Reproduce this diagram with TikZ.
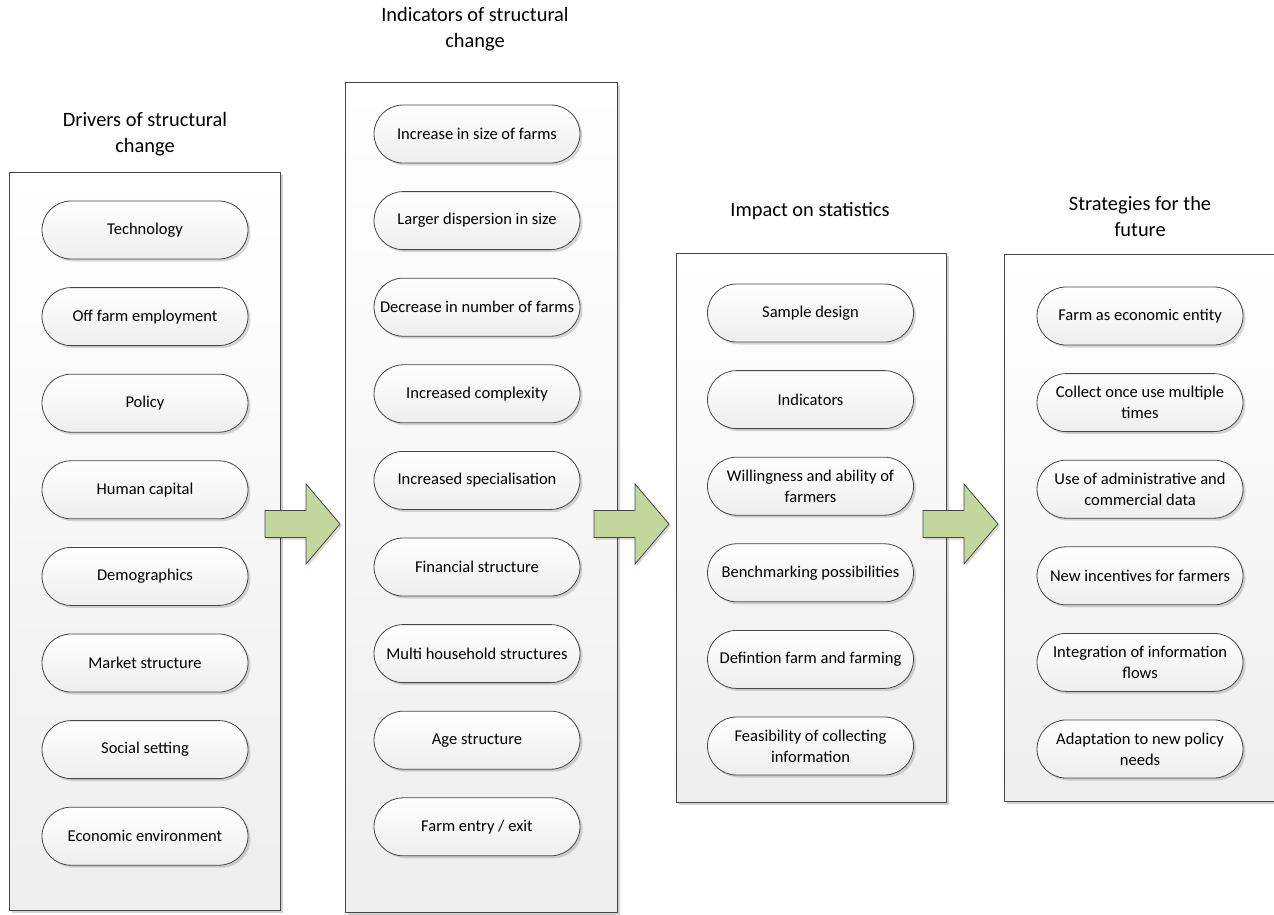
\documentclass[tikz,border=0pt]{standalone}
\usepackage{fontspec}
\setmainfont{Carlito}
\usetikzlibrary{shadows}
\definecolor{arrowgreen}{RGB}{195,214,155}
\definecolor{edgegray}{RGB}{70,70,70}
\definecolor{panelbottom}{RGB}{238,238,238}
\definecolor{pillbottom}{RGB}{238,238,238}
\tikzset{
  panel/.style={draw=edgegray, line width=0.8pt, top color=white, bottom color=panelbottom,
    drop shadow={shadow xshift=3pt, shadow yshift=-3pt, opacity=0.18, fill=black}},
  pill/.style={draw=edgegray, line width=0.8pt, rounded corners=29pt, minimum width=206pt,
    minimum height=58pt, align=center, top color=white, bottom color=pillbottom,
    font=\fontsize{16.5}{21}\selectfont, inner sep=2pt,
    drop shadow={shadow xshift=2.5pt, shadow yshift=-2.5pt, opacity=0.15, fill=black}},
  title/.style={align=center, font=\fontsize{20.4}{25.5}\selectfont},
  bigarrow/.style={draw=edgegray, line width=0.8pt, fill=arrowgreen, line join=miter,
    drop shadow={shadow xshift=2pt, shadow yshift=-2pt, opacity=0.15, fill=black}}
}
\begin{document}
\begin{tikzpicture}[x=1pt,y=-1pt]
\useasboundingbox (0,0) rectangle (1274,915);

% panels
\node[panel, minimum width=271pt, minimum height=738pt] (p1) at (144.5,541) {};
\node[panel, minimum width=272pt, minimum height=830pt] (p2) at (481,497) {};
\node[panel, minimum width=270pt, minimum height=549pt] (p3) at (811,527.5) {};
\node[panel, minimum width=272pt, minimum height=547pt] (p4) at (1140,527.5) {};

% titles
\node[title] (t1) at (145,134) {Drivers of structural\\change};
\node[title] (t2) at (475,29) {Indicators of structural\\change};
\node[title] (t3) at (810,211) {Impact on statistics};
\node[title] (t4) at (1140,216.5) {Strategies for the\\future};

% column 1
\node[pill] (a1) at (145,230) {Technology};
\node[pill] (a2) at (145,316.6) {Off farm employment};
\node[pill] (a3) at (145,403.2) {Policy};
\node[pill] (a4) at (145,489.8) {Human capital};
\node[pill] (a5) at (145,576.4) {Demographics};
\node[pill] (a6) at (145,663) {Market structure};
\node[pill] (a7) at (145,749.6) {Social setting};
\node[pill] (a8) at (145,836.2) {Economic environment};

% column 2
\node[pill] (b1) at (477,134) {Increase in size of farms};
\node[pill] (b2) at (477,220.6) {Larger dispersion in size};
\node[pill] (b3) at (477,307.2) {Decrease in number of farms};
\node[pill] (b4) at (477,393.8) {Increased complexity};
\node[pill] (b5) at (477,480.4) {Increased specialisation};
\node[pill] (b6) at (477,567) {Financial structure};
\node[pill] (b7) at (477,653.6) {Multi household structures};
\node[pill] (b8) at (477,740.2) {Age structure};
\node[pill] (b9) at (477,826.8) {Farm entry / exit};

% column 3
\node[pill] (c1) at (810.5,313) {Sample design};
\node[pill] (c2) at (810.5,399.6) {Indicators};
\node[pill] (c3) at (810.5,486.2) {Willingness and ability of\\farmers};
\node[pill] (c4) at (810.5,572.8) {Benchmarking possibilities};
\node[pill] (c5) at (810.5,659.4) {Defintion farm and farming};
\node[pill] (c6) at (810.5,746) {Feasibility of collecting\\information};

% column 4
\node[pill] (d1) at (1140,316) {Farm as economic entity};
\node[pill] (d2) at (1140,402.6) {Collect once use multiple\\times};
\node[pill] (d3) at (1140,489.2) {Use of administrative and\\commercial data};
\node[pill] (d4) at (1140,575.8) {New incentives for farmers};
\node[pill] (d5) at (1140,662.4) {Integration of information\\flows};
\node[pill] (d6) at (1140,749) {Adaptation to new policy\\needs};

% block arrows
\foreach \x in {265,594,923}{
  \draw[bigarrow, shift={(\x,524)}] (0,-13.5) -- (41,-13.5) -- (41,-40) -- (75,0) -- (41,40) -- (41,13.5) -- (0,13.5) -- cycle;
}
\end{tikzpicture}
\end{document}
